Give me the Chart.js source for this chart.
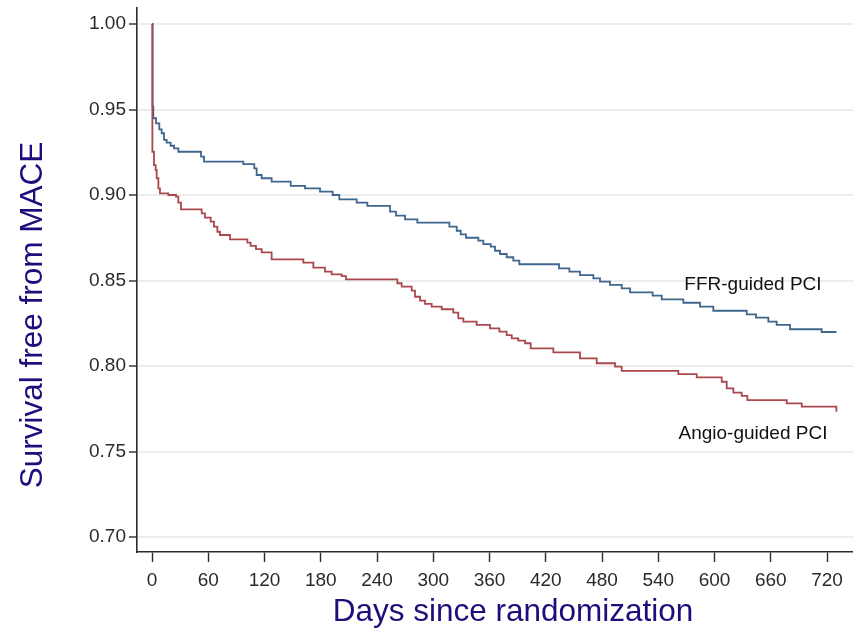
<!DOCTYPE html>
<html>
<head>
<meta charset="utf-8">
<script src="https://cdn.jsdelivr.net/npm/chart.js@4.4.1/dist/chart.umd.min.js"></script>
<style>
  html, body { margin: 0; padding: 0; background: #ffffff; }
  #wrap { width: 853px; height: 629px; }
</style>
</head>
<body>
<div id="wrap"><canvas id="c" width="853" height="629"></canvas></div>
<script>
// ---- Data ----
const xTickValues = [0, 60, 120, 180, 240, 300, 360, 420, 480, 540, 600, 660, 720];
const yTickValues = [0.70, 0.75, 0.80, 0.85, 0.90, 0.95, 1.00];

const ffrDays = [0, 0.6, 1.4, 4.3, 7.8, 10.3, 12.8, 15.6, 19.9, 23.5, 28.1, 52.3, 55.5, 97.4, 109.1, 111.6, 117, 127.6, 147.9, 163.2,
  179.2, 192.7, 199.8, 218.3, 229.7, 253.9, 260.3, 269.9, 283, 317.2, 325, 329.3, 334.9, 348.1, 353.4,
  361.3, 365.9, 371.2, 378.3, 385.4, 391.8, 434.1, 445.2, 456.5, 470.8, 477.9, 488.5, 501, 509.9,
  534, 543.7, 566.8, 584.5, 598.7, 634.3, 644.3, 657.4, 666.3, 680.5, 714.3, 730];
const ffrSurv = [1.0, 0.9516, 0.9449, 0.9419, 0.9384, 0.9361, 0.9322, 0.9306, 0.9288, 0.9273, 0.9253, 0.9224, 0.9195, 0.9181, 0.9156, 0.9117, 0.9098, 0.9078, 0.9053, 0.9039,
  0.9020, 0.9000, 0.8975, 0.8955, 0.8936, 0.8903, 0.8879, 0.8858, 0.8838, 0.8815, 0.8791, 0.8770, 0.8750, 0.8733, 0.8713,
  0.8698, 0.8674, 0.8655, 0.8636, 0.8616, 0.8595, 0.8571, 0.8552, 0.8532, 0.8513, 0.8493, 0.8474, 0.8454, 0.8431,
  0.8411, 0.8390, 0.8370, 0.8347, 0.8323, 0.8302, 0.8283, 0.8259, 0.8240, 0.8215, 0.8199, 0.8199];

const angioDays = [0, 0.4, 2.1, 3.9, 5, 6.8, 8.5, 17.4, 25.6, 28.1, 30.9, 53, 56.5, 62.6, 66.1, 69.7, 72.5, 83.2, 101.7, 105.2,
  110.9, 117, 127.6, 161.4, 172.1, 184.5, 191.6, 202.3, 206.9, 261.7, 266.3, 277, 280.5, 285.9, 291.2, 298.3,
  309, 321.4, 326.7, 332.1, 346.3, 360.5, 370.5, 378.3, 383.7, 390.7, 397.9, 403.9, 428.1, 456.5, 474.3,
  493.9, 501, 561.4, 581, 607.7, 613, 620.1, 629, 635, 677, 693, 730];
const angioSurv = [1.0, 0.9253, 0.9175, 0.9146, 0.9098, 0.9039, 0.9010, 0.9000, 0.8990, 0.8955, 0.8916, 0.8893, 0.8868, 0.8844, 0.8815, 0.8785, 0.8766, 0.8741, 0.8721, 0.8702,
  0.8684, 0.8665, 0.8624, 0.8604, 0.8575, 0.8552, 0.8536, 0.8526, 0.8507, 0.8484, 0.8464, 0.8441, 0.8405, 0.8382, 0.8363, 0.8347,
  0.8332, 0.8312, 0.8279, 0.8259, 0.8240, 0.8220, 0.8201, 0.8181, 0.8162, 0.8148, 0.8133, 0.8103, 0.8080, 0.8045, 0.8016,
  0.7996, 0.7971, 0.7953, 0.7934, 0.7908, 0.7869, 0.7844, 0.7825, 0.7801, 0.7782, 0.7762, 0.7733];

const seriesNames = ['Angio-guided PCI', 'FFR-guided PCI'];
const xTitle = 'Days since randomization';
const yTitle = 'Survival free from MACE';
// label anchors in data units (day, survival)
const ffrLabelAt = [641, 0.8477];
const angioLabelAt = [641, 0.7601];

// ---- Styles ----
const FONT = '"Liberation Sans", Arial, Helvetica, sans-serif';
const TITLE_COLOR = '#1d0e7c';
const AXIS_COLOR = '#2b2b2b';
const BLUE = '#3f668e';
const RED = '#a9484e';

const toPts = (xs, ys) => xs.map((d, i) => ({ x: d, y: ys[i] }));

const annotatePlugin = {
  id: 'annotate',
  afterDraw(chart) {
    const { ctx, scales } = chart;
    const xs = scales.x, ys = scales.y;
    ctx.save();
    ctx.fillStyle = '#111111';
    ctx.font = '19px ' + FONT;
    ctx.textAlign = 'center';
    ctx.textBaseline = 'middle';
    ctx.fillText(seriesNames[1], xs.getPixelForValue(ffrLabelAt[0]), ys.getPixelForValue(ffrLabelAt[1]));
    ctx.fillText(seriesNames[0], xs.getPixelForValue(angioLabelAt[0]), ys.getPixelForValue(angioLabelAt[1]));

    // axis titles
    ctx.fillStyle = TITLE_COLOR;
    ctx.font = '31.5px ' + FONT;
    ctx.textBaseline = 'alphabetic';
    ctx.fillText(xTitle, 513, 621);
    ctx.translate(42, 315);
    ctx.rotate(-Math.PI / 2);
    ctx.fillText(yTitle, 0, 0);
    ctx.restore();
  }
};

new Chart(document.getElementById('c'), {
  type: 'line',
  data: {
    datasets: [
      {
        label: seriesNames[0],
        data: toPts(angioDays, angioSurv),
        borderColor: RED,
        borderWidth: 1.8,
        pointRadius: 0,
        stepped: 'before',
        fill: false
      },
      {
        label: seriesNames[1],
        data: toPts(ffrDays, ffrSurv),
        borderColor: BLUE,
        borderWidth: 1.8,
        pointRadius: 0,
        stepped: 'before',
        fill: false
      }
    ]
  },
  options: {
    responsive: false,
    devicePixelRatio: 1,
    animation: false,
    layout: { padding: { top: 8, right: 0, left: 0, bottom: 0 } },
    plugins: {
      legend: { display: false },
      tooltip: { enabled: false },
      title: { display: false }
    },
    scales: {
      x: {
        type: 'linear',
        min: -16,
        max: 747.7,
        afterFit(scale) { scale.height = 77; scale.paddingLeft = 0; scale.paddingRight = 0; },
        afterBuildTicks(scale) { scale.ticks = xTickValues.map(v => ({ value: v })); },
        border: { display: true, color: AXIS_COLOR, width: 1.6 },
        grid: { drawOnChartArea: false, drawTicks: true, tickLength: 10, tickColor: AXIS_COLOR, tickWidth: 1.4 },
        ticks: {
          autoSkip: false,
          maxRotation: 0,
          padding: 7,
          color: '#2a2a2a',
          font: { family: FONT, size: 19 },
          callback: (v) => String(v)
        }
      },
      y: {
        type: 'linear',
        min: 0.69123,
        max: 1.00936,
        afterFit(scale) { scale.width = 137; scale.paddingTop = 0; scale.paddingBottom = 0; },
        afterBuildTicks(scale) { scale.ticks = yTickValues.map(v => ({ value: v })); },
        border: { display: true, color: AXIS_COLOR, width: 1.6 },
        grid: { drawOnChartArea: true, color: '#ededed', lineWidth: 2, drawTicks: true, tickLength: 8, tickColor: AXIS_COLOR, tickWidth: 1.4 },
        ticks: {
          autoSkip: false,
          padding: 3,
          color: '#2a2a2a',
          font: { family: FONT, size: 19 },
          callback: (v) => Number(v).toFixed(2)
        }
      }
    }
  },
  plugins: [annotatePlugin]
});
</script>
</body>
</html>
